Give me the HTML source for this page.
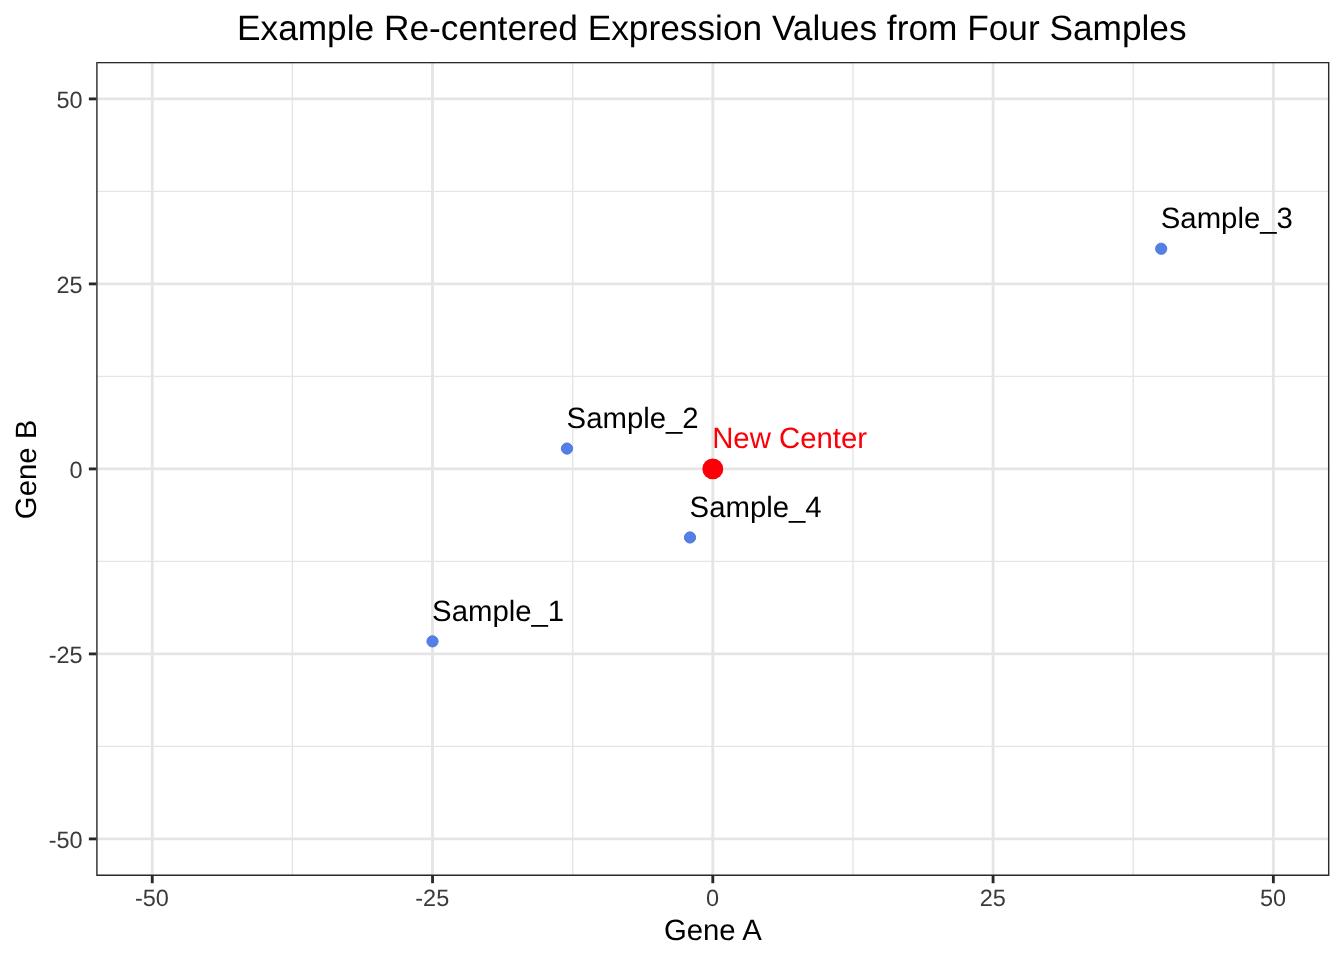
<!DOCTYPE html>
<html lang="en"><head><meta charset="utf-8"><title>Example Re-centered Expression Values from Four Samples</title>
<style>html,body{margin:0;padding:0;background:#fff}body{width:1344px;height:960px;overflow:hidden}svg{display:block;will-change:transform}text{font-family:"Liberation Sans",Arial,Helvetica,sans-serif;text-rendering:geometricPrecision}</style></head><body>
<svg width="1344" height="960" viewBox="0 0 1344 960">
<rect width="1344" height="960" fill="#fff"/>
<defs><clipPath id="p"><rect x="96.2" y="61.9" width="1233.20" height="814.00"/></clipPath></defs>
<g clip-path="url(#p)">
<line x1="292.39" x2="292.39" y1="61.9" y2="875.9" stroke="#e5e5e5" stroke-width="1.42"/>
<line y1="746.40" y2="746.40" x1="96.2" x2="1329.4" stroke="#e5e5e5" stroke-width="1.42"/>
<line x1="572.66" x2="572.66" y1="61.9" y2="875.9" stroke="#e5e5e5" stroke-width="1.42"/>
<line y1="561.40" y2="561.40" x1="96.2" x2="1329.4" stroke="#e5e5e5" stroke-width="1.42"/>
<line x1="852.94" x2="852.94" y1="61.9" y2="875.9" stroke="#e5e5e5" stroke-width="1.42"/>
<line y1="376.40" y2="376.40" x1="96.2" x2="1329.4" stroke="#e5e5e5" stroke-width="1.42"/>
<line x1="1133.21" x2="1133.21" y1="61.9" y2="875.9" stroke="#e5e5e5" stroke-width="1.42"/>
<line y1="191.40" y2="191.40" x1="96.2" x2="1329.4" stroke="#e5e5e5" stroke-width="1.42"/>
<line x1="152.25" x2="152.25" y1="61.9" y2="875.9" stroke="#e5e5e5" stroke-width="2.84"/>
<line y1="838.90" y2="838.90" x1="96.2" x2="1329.4" stroke="#e5e5e5" stroke-width="2.84"/>
<line x1="432.53" x2="432.53" y1="61.9" y2="875.9" stroke="#e5e5e5" stroke-width="2.84"/>
<line y1="653.90" y2="653.90" x1="96.2" x2="1329.4" stroke="#e5e5e5" stroke-width="2.84"/>
<line x1="712.80" x2="712.80" y1="61.9" y2="875.9" stroke="#e5e5e5" stroke-width="2.84"/>
<line y1="468.90" y2="468.90" x1="96.2" x2="1329.4" stroke="#e5e5e5" stroke-width="2.84"/>
<line x1="993.07" x2="993.07" y1="61.9" y2="875.9" stroke="#e5e5e5" stroke-width="2.84"/>
<line y1="283.90" y2="283.90" x1="96.2" x2="1329.4" stroke="#e5e5e5" stroke-width="2.84"/>
<line x1="1273.35" x2="1273.35" y1="61.9" y2="875.9" stroke="#e5e5e5" stroke-width="2.84"/>
<line y1="98.90" y2="98.90" x1="96.2" x2="1329.4" stroke="#e5e5e5" stroke-width="2.84"/>
<circle cx="432.5" cy="641.35" r="5.6" fill="#5480e6" stroke="#4a75e4" stroke-width="1"/>
<circle cx="567.0" cy="448.55" r="5.6" fill="#5480e6" stroke="#4a75e4" stroke-width="1"/>
<circle cx="1161.2" cy="248.75" r="5.6" fill="#5480e6" stroke="#4a75e4" stroke-width="1"/>
<circle cx="690.0" cy="537.45" r="5.6" fill="#5480e6" stroke="#4a75e4" stroke-width="1"/>
<circle cx="712.80" cy="468.90" r="10.45" fill="#fb0007"/>
<text x="432.10" y="621.00" font-size="29.33" fill="#000">Sample_1</text>
<text x="566.60" y="428.20" font-size="29.33" fill="#000">Sample_2</text>
<text x="1160.80" y="228.40" font-size="29.33" fill="#000">Sample_3</text>
<text x="689.60" y="517.10" font-size="29.33" fill="#000">Sample_4</text>
<text x="712.20" y="447.60" font-size="29.33" fill="#fb0007">New Center</text>
<rect x="96.2" y="61.9" width="1233.20" height="814.00" fill="none" stroke="#2a2a2a" stroke-width="2.84"/>
</g>
<line x1="152.25" x2="152.25" y1="875.9" y2="883.23" stroke="#282828" stroke-width="2.84"/>
<line y1="838.90" y2="838.90" x1="88.87" x2="96.2" stroke="#282828" stroke-width="2.84"/>
<text x="151.95" y="905.9" font-size="23.47" fill="#3a3a3a" text-anchor="middle">-50</text>
<text x="82.60" y="847.90" font-size="23.47" fill="#3a3a3a" text-anchor="end">-50</text>
<line x1="432.53" x2="432.53" y1="875.9" y2="883.23" stroke="#282828" stroke-width="2.84"/>
<line y1="653.90" y2="653.90" x1="88.87" x2="96.2" stroke="#282828" stroke-width="2.84"/>
<text x="432.23" y="905.9" font-size="23.47" fill="#3a3a3a" text-anchor="middle">-25</text>
<text x="82.60" y="662.90" font-size="23.47" fill="#3a3a3a" text-anchor="end">-25</text>
<line x1="712.80" x2="712.80" y1="875.9" y2="883.23" stroke="#282828" stroke-width="2.84"/>
<line y1="468.90" y2="468.90" x1="88.87" x2="96.2" stroke="#282828" stroke-width="2.84"/>
<text x="712.50" y="905.9" font-size="23.47" fill="#3a3a3a" text-anchor="middle">0</text>
<text x="82.60" y="477.90" font-size="23.47" fill="#3a3a3a" text-anchor="end">0</text>
<line x1="993.07" x2="993.07" y1="875.9" y2="883.23" stroke="#282828" stroke-width="2.84"/>
<line y1="283.90" y2="283.90" x1="88.87" x2="96.2" stroke="#282828" stroke-width="2.84"/>
<text x="992.77" y="905.9" font-size="23.47" fill="#3a3a3a" text-anchor="middle">25</text>
<text x="82.60" y="292.90" font-size="23.47" fill="#3a3a3a" text-anchor="end">25</text>
<line x1="1273.35" x2="1273.35" y1="875.9" y2="883.23" stroke="#282828" stroke-width="2.84"/>
<line y1="98.90" y2="98.90" x1="88.87" x2="96.2" stroke="#282828" stroke-width="2.84"/>
<text x="1273.05" y="905.9" font-size="23.47" fill="#3a3a3a" text-anchor="middle">50</text>
<text x="82.60" y="107.90" font-size="23.47" fill="#3a3a3a" text-anchor="end">50</text>
<text x="711.80" y="40.1" font-size="35.25" fill="#000" text-anchor="middle">Example Re-centered Expression Values from Four Samples</text>
<text x="712.80" y="939.9" font-size="29.33" fill="#000" text-anchor="middle">Gene A</text>
<text transform="translate(35.7,469.40) rotate(-90)" font-size="29.33" fill="#000" text-anchor="middle">Gene B</text>
</svg></body></html>
